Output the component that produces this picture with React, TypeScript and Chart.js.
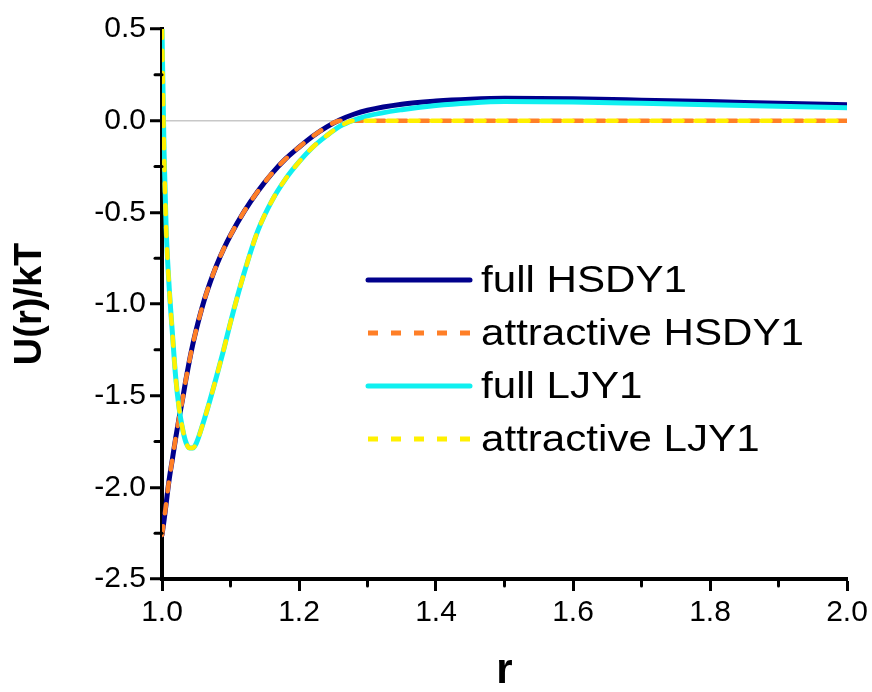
import React, { useEffect, useRef } from 'react';
import { Chart, registerables } from 'chart.js';

Chart.register(...registerables);

const FONT = '"Liberation Sans", Arial, Helvetica, sans-serif';

// ---- data ----
const rValues = [
  1.0, 1.003, 1.006, 1.01, 1.015, 1.02, 1.025, 1.03, 1.035, 1.04, 1.045, 1.05,
  1.06, 1.07, 1.08, 1.09, 1.1, 1.12, 1.14, 1.16, 1.18, 1.2, 1.22, 1.24, 1.26,
  1.28, 1.3, 1.35, 1.4, 1.45, 1.5, 1.6, 1.7, 1.8, 1.9, 2.0,
];

const fullHSDY1 = [
  -2.26, -2.18, -2.09, -1.97, -1.85, -1.73, -1.62, -1.52, -1.41, -1.31, -1.22, -1.14,
  -1.0, -0.885, -0.785, -0.7, -0.625, -0.495, -0.385, -0.29, -0.21, -0.145, -0.085, -0.035, 0.005,
  0.035, 0.057, 0.09, 0.107, 0.117, 0.122, 0.119, 0.112, 0.104, 0.095, 0.087,
];

const attractiveHSDY1 = [
  -2.26, -2.18, -2.09, -1.97, -1.85, -1.73, -1.62, -1.52, -1.41, -1.31, -1.22, -1.14,
  -1.0, -0.885, -0.785, -0.7, -0.625, -0.495, -0.385, -0.29, -0.21, -0.145, -0.085, -0.035, 0.0,
  0.0, 0.0, 0.0, 0.0, 0.0, 0.0, 0.0, 0.0, 0.0, 0.0, 0.0,
];

const fullLJY1 = [
  0.5, -0.17, -0.58, -0.88, -1.15, -1.4, -1.57, -1.68, -1.755, -1.785, -1.785, -1.76,
  -1.65, -1.525, -1.39, -1.25, -1.1, -0.83, -0.6, -0.44, -0.32, -0.225, -0.145, -0.083, -0.03,
  0.003, 0.026, 0.06, 0.083, 0.097, 0.104, 0.102, 0.095, 0.087, 0.079, 0.071,
];

const attractiveLJY1 = [
  0.5, -0.17, -0.58, -0.88, -1.15, -1.4, -1.57, -1.68, -1.755, -1.785, -1.785, -1.76,
  -1.65, -1.525, -1.39, -1.25, -1.1, -0.83, -0.6, -0.44, -0.32, -0.225, -0.145, -0.083, -0.03,
  0.0, 0.0, 0.0, 0.0, 0.0, 0.0, 0.0, 0.0, 0.0, 0.0, 0.0,
];

const seriesLabels = ['full HSDY1', 'attractive HSDY1', 'full LJY1', 'attractive LJY1'];

const xTicks = [1.0, 1.2, 1.4, 1.6, 1.8, 2.0];
const xMinorTicks = [1.1, 1.3, 1.5, 1.7, 1.9];
const yTicks = [-2.5, -2.0, -1.5, -1.0, -0.5, 0.0, 0.5];
const yMinorTicks = [-2.25, -1.75, -1.25, -0.75, -0.25, 0.25];

const toPoints = (ys: number[]) => rValues.map((r, i) => ({ x: r, y: ys[i] }));

const legendPlugin = {
  id: 'customLegend',
  afterDatasetsDraw(chart: any) {
    const { ctx, chartArea } = chart;
    const x0 = chartArea.left + 206;
    const x1 = chartArea.left + 308;
    const tx = chartArea.left + 319;
    const rowY = [251, 304, 357, 410].map((d) => chartArea.top + d);
    const dsets = chart.data.datasets;
    ctx.save();
    dsets.forEach((ds: any, i: number) => {
      const y = rowY[i];
      const isDashed = ds.borderDash && ds.borderDash.length > 0;
      ctx.beginPath();
      ctx.strokeStyle = ds.borderColor;
      ctx.lineWidth = 5;
      ctx.lineCap = isDashed ? 'butt' : 'round';
      ctx.setLineDash(isDashed ? [10, 13] : []);
      ctx.moveTo(x0, y);
      ctx.lineTo(x1, y);
      ctx.stroke();
      ctx.setLineDash([]);
      ctx.save();
      ctx.translate(tx, y + 2);
      ctx.scale(1.17, 1);
      ctx.fillStyle = '#000';
      ctx.font = `36px ${FONT}`;
      ctx.textBaseline = 'middle';
      ctx.textAlign = 'left';
      ctx.fillText(ds.label, 0, 0);
      ctx.restore();
    });
    ctx.restore();
  },
};

const minorTickPlugin = {
  id: 'minorTicks',
  afterDraw(chart: any) {
    const { ctx, chartArea, scales } = chart;
    ctx.save();
    ctx.strokeStyle = '#000';
    ctx.lineWidth = 3;
    ctx.lineCap = 'round';
    xMinorTicks.forEach((v) => {
      const px = scales.x.getPixelForValue(v);
      ctx.beginPath();
      ctx.moveTo(px, chartArea.bottom);
      ctx.lineTo(px, chartArea.bottom + 7);
      ctx.stroke();
    });
    yMinorTicks.forEach((v) => {
      const py = scales.y.getPixelForValue(v);
      ctx.beginPath();
      ctx.moveTo(chartArea.left, py);
      ctx.lineTo(chartArea.left - 7, py);
      ctx.stroke();
    });
    ctx.restore();
  },
};

export default function App() {
  const canvasRef = useRef<HTMLCanvasElement | null>(null);

  useEffect(() => {
    document.body.style.margin = '0';
    const canvas = canvasRef.current;
    if (!canvas) return;

    const solid = (label: string, data: number[], color: string, order: number) => ({
      label,
      data: toPoints(data),
      borderColor: color,
      backgroundColor: color,
      borderWidth: 5,
      pointRadius: 0,
      fill: false,
      cubicInterpolationMode: 'monotone' as const,
      borderCapStyle: 'round' as const,
      borderJoinStyle: 'round' as const,
      borderDash: [] as number[],
      order,
    });
    const dashed = (label: string, data: number[], color: string, order: number) => ({
      ...solid(label, data, color, order),
      borderWidth: 4.5,
      borderDash: [9, 13],
    });

    const chart = new Chart(canvas, {
      type: 'line',
      data: {
        datasets: [
          solid(seriesLabels[0], fullHSDY1, '#00008c', 4),
          dashed(seriesLabels[1], attractiveHSDY1, '#ff7f27', 3),
          solid(seriesLabels[2], fullLJY1, '#10f0f0', 2),
          dashed(seriesLabels[3], attractiveLJY1, '#fff000', 1),
        ],
      },
      options: {
        responsive: false,
        animation: false,
        layout: { padding: { top: 29, right: 25, left: 0, bottom: 0 } },
        plugins: {
          legend: { display: false },
          tooltip: { enabled: false },
        },
        scales: {
          x: {
            type: 'linear',
            min: 1.0,
            max: 2.0,
            afterBuildTicks: (scale: any) => {
              scale.ticks = xTicks.map((v) => ({ value: v }));
            },
            afterFit: (scale: any) => {
              scale.height = 113;
            },
            ticks: {
              color: '#000',
              font: { family: FONT, size: 30 },
              padding: 4,
              maxRotation: 0,
              autoSkip: false,
              callback: (v: any) => Number(v).toFixed(1),
            },
            grid: {
              drawOnChartArea: false,
              tickLength: 12,
              tickWidth: 3,
              tickColor: '#000',
            },
            border: { display: true, color: '#000', width: 4 },
            title: {
              display: true,
              text: 'r',
              color: '#000',
              font: { family: FONT, size: 42, weight: 'bold', lineHeight: 1 },
              padding: { top: 0, bottom: 0 },
            },
          },
          y: {
            type: 'linear',
            min: -2.5,
            max: 0.5,
            afterBuildTicks: (scale: any) => {
              scale.ticks = yTicks.map((v) => ({ value: v }));
            },
            afterFit: (scale: any) => {
              scale.width = 162;
            },
            ticks: {
              color: '#000',
              font: { family: FONT, size: 30 },
              padding: 4,
              autoSkip: false,
              callback: (v: any) => Number(v).toFixed(1),
            },
            grid: {
              color: (c: any) => (c.tick && Math.abs(c.tick.value) < 1e-9 ? '#c8c8c8' : 'rgba(0,0,0,0)'),
              lineWidth: 1.5,
              tickLength: 12,
              tickWidth: 3,
              tickColor: '#000',
            },
            border: { display: true, color: '#000', width: 4 },
            title: {
              display: true,
              text: 'U(r)/kT',
              color: '#000',
              font: { family: FONT, size: 38, weight: 'bold', lineHeight: 1 },
              padding: { top: 12, bottom: 0 },
            },
          },
        },
      },
      plugins: [minorTickPlugin, legendPlugin],
    });

    return () => {
      chart.destroy();
    };
  }, []);

  return (
    <div style={{ width: 872, height: 692, background: '#fff' }}>
      <canvas ref={canvasRef} width={872} height={692} style={{ display: 'block' }} />
    </div>
  );
}
